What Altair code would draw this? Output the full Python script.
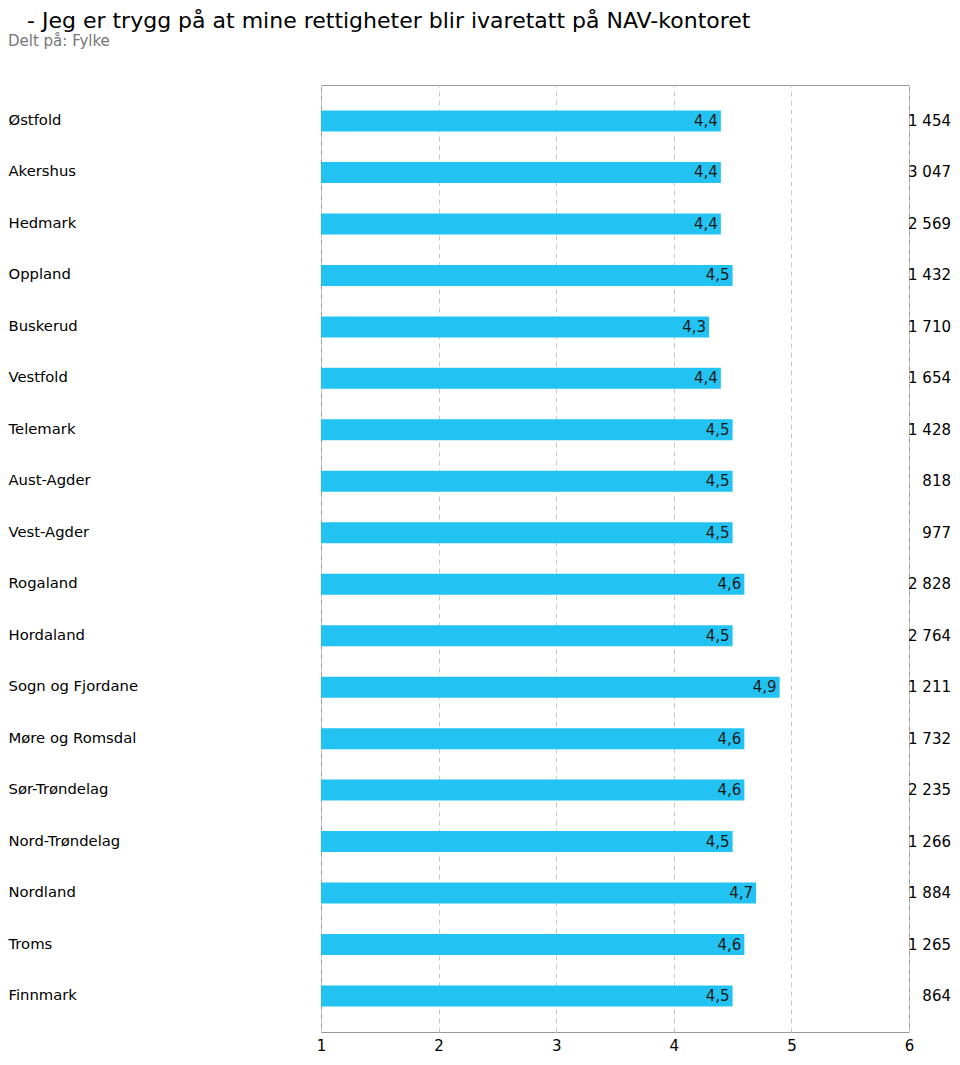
import altair as alt
import pandas as pd

categories = ["Østfold", "Akershus", "Hedmark", "Oppland", "Buskerud", "Vestfold",
              "Telemark", "Aust-Agder", "Vest-Agder", "Rogaland", "Hordaland",
              "Sogn og Fjordane", "Møre og Romsdal", "Sør-Trøndelag", "Nord-Trøndelag",
              "Nordland", "Troms", "Finnmark"]
values = [4.4, 4.4, 4.4, 4.5, 4.3, 4.4, 4.5, 4.5, 4.5, 4.6, 4.5, 4.9, 4.6, 4.6, 4.5, 4.7, 4.6, 4.5]
counts = [1454, 3047, 2569, 1432, 1710, 1654, 1428, 818, 977, 2828, 2764, 1211, 1732, 2235, 1266, 1884, 1265, 864]
x_ticks = [1, 2, 3, 4, 5, 6]
title_text = "- Jeg er trygg på at mine rettigheter blir ivaretatt på NAV-kontoret"
subtitle_text = "Delt på: Fylke"

FONT = "DejaVu Sans"

df = pd.DataFrame({
    "fylke": categories,
    "value": values,
    "count": counts,
})
df["vlabel"] = df["value"].map(lambda v: f"{v:.1f}".replace(".", ","))
df["clabel"] = df["count"].map(lambda c: f"{c:,}".replace(",", " "))

y_enc = alt.Y("fylke:N", sort=categories,
              scale=alt.Scale(paddingInner=0, paddingOuter=0.2),
              axis=alt.Axis(title=None, ticks=False, domain=False, grid=False,
                            labelAlign="left", labelPadding=313, labelFont=FONT,
                            labelFontSize=14.8, labelColor="#000000", labelLimit=400))
x_enc = alt.X("value:Q", scale=alt.Scale(domain=[1, 6], nice=False, zero=False),
              axis=alt.Axis(title=None, values=x_ticks, format="d", ticks=False,
                            domain=False, grid=True, labelFont=FONT, labelFontSize=15,
                            labelColor="#000000", labelPadding=6, gridDash=[5, 4],
                            gridColor="#c8c8c8", labelFlush=False))

base = alt.Chart(df)

bars = base.mark_bar(height=21, color="#22C3F2").encode(
    y=y_enc, x=x_enc, x2=alt.datum(1)
)

vtext = base.mark_text(align="right", baseline="middle", dx=-3, font=FONT,
                       fontSize=15, color="#1a1a1a").encode(
    y=alt.Y("fylke:N", sort=categories), x=alt.X("value:Q"), text="vlabel:N"
)

ctext = base.mark_text(align="right", baseline="middle", font=FONT,
                       fontSize=15, color="#000000").encode(
    y=alt.Y("fylke:N", sort=categories), x=alt.value(630), text="clabel:N"
)

tdf = pd.DataFrame({"t": [title_text]})
sdf = pd.DataFrame({"t": [subtitle_text]})
title = alt.Chart(tdf).mark_text(align="left", baseline="top", font=FONT,
                                 fontSize=22, color="#000000").encode(
    x=alt.value(-294), y=alt.value(-74), text="t:N")
subtitle = alt.Chart(sdf).mark_text(align="left", baseline="alphabetic", font=FONT,
                                    fontSize=15, color="#777777").encode(
    x=alt.value(-313), y=alt.value(-39), text="t:N")

chart = alt.layer(bars, vtext, ctext, title, subtitle).properties(
    width=588, height=947,
    autosize=alt.AutoSizeParams(type="none"),
    padding={"left": 313, "top": 77, "right": 42, "bottom": 25},
).configure_view(stroke="#999999", strokeWidth=1)

chart.save("out.html", embed_options={"renderer": "svg", "actions": False})
